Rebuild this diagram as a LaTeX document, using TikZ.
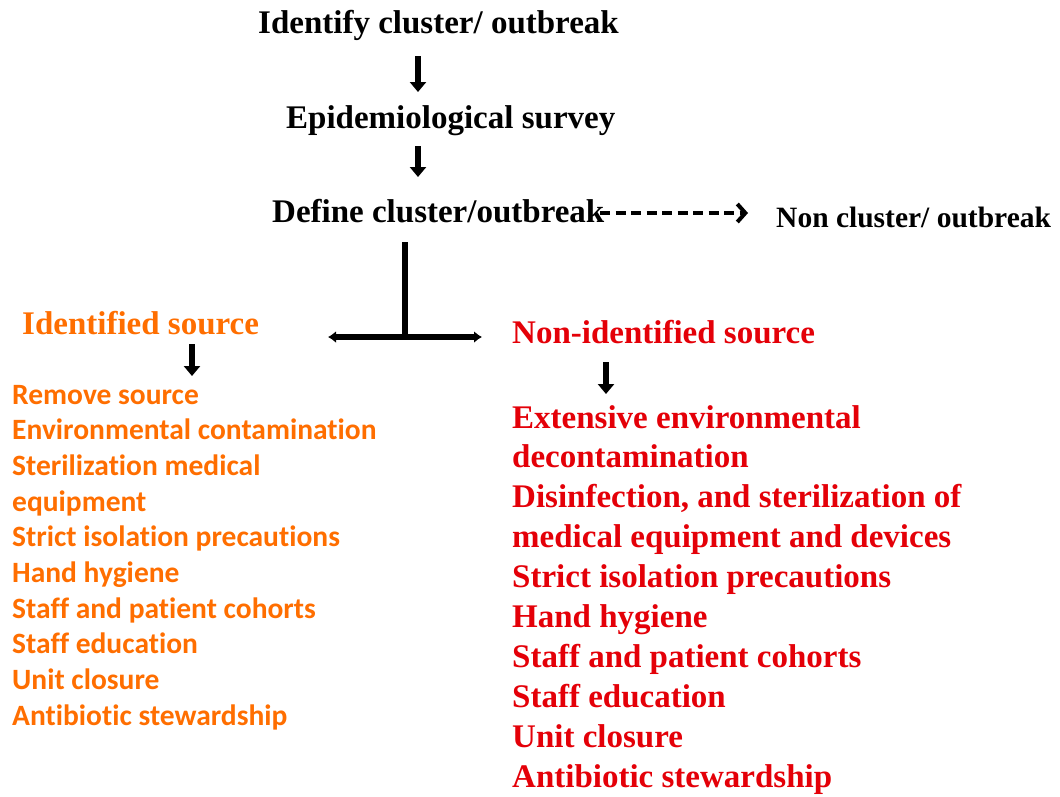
\documentclass[tikz,border=0pt]{standalone}
\usepackage{fontspec}
\setmainfont{Liberation Serif}
\newfontfamily\calib[Ligatures=NoCommon]{Carlito}
\usetikzlibrary{arrows.meta}
\definecolor{orng}{RGB}{255,110,0}
\definecolor{redd}{RGB}{228,0,8}
\begin{document}
\begin{tikzpicture}[x=1pt,y=-1pt,
  title/.style={anchor=base west, inner sep=0pt, font=\bfseries\fontsize{33}{39}\selectfont},
  smalltitle/.style={anchor=base west, inner sep=0pt, font=\bfseries\fontsize{29.5}{35}\selectfont},
  oitem/.style={anchor=base west, inner sep=0pt, text=orng, font=\calib\bfseries\fontsize{29.5}{35}\selectfont},
  ritem/.style={anchor=base west, inner sep=0pt, text=redd, font=\bfseries\fontsize{33}{39}\selectfont},
  downarr/.style={line width=6pt, -{Triangle[length=10pt,width=16pt]}},
  tline/.style={line width=6pt},
  tarr/.style={line width=6pt, {Latex[length=8pt,width=12pt]}-{Latex[length=8pt,width=12pt]}},
  dasharr/.style={line width=4pt, dash pattern=on 10pt off 5.5pt, -{Straight Barb[length=8pt,width=18pt]}}
]
\useasboundingbox (0,0) rectangle (1060,796);

\node[title] (identify) at (258,33) {Identify cluster/ outbreak};
\node[title] (epi) at (286,128) {Epidemiological survey};
\node[title] (define) at (272,222) {Define cluster/outbreak};
\node[smalltitle] (noncl) at (776,227) {Non cluster/ outbreak};
\node[title, text=orng] (idsrc) at (22,334) {Identified source};
\node[title, text=redd] (nonid) at (512,343) {Non-identified source};

\foreach \t [count=\i] in {Remove source, Environmental contamination, Sterilization medical, equipment, Strict isolation precautions, Hand hygiene, Staff and patient cohorts, Staff education, Unit closure, Antibiotic stewardship}
  \node[oitem] (o\i) at (12,{404+(\i-1)*35.7}) {\t};

\foreach \t [count=\i] in {Extensive environmental, decontamination, {Disinfection, and sterilization of}, medical equipment and devices, Strict isolation precautions, Hand hygiene, Staff and patient cohorts, Staff education, Unit closure, Antibiotic stewardship}
  \node[ritem] (r\i) at (512,{428+(\i-1)*39.9}) {\t};

\coordinate (a1s) at (418,56);
\coordinate (a1e) at (418,92);
\coordinate (a2s) at (418,146);
\coordinate (a2e) at (418,177);
\coordinate (ts) at (405,242);
\coordinate (tj) at (405,337);
\coordinate (tl) at (328,337);
\coordinate (tr) at (482,337);
\coordinate (ds) at (600,213);
\coordinate (de) at (748,213);
\coordinate (a3s) at (192,344);
\coordinate (a3e) at (192,376);
\coordinate (a4s) at (606,362);
\coordinate (a4e) at (606,394);

\draw[downarr] (a1s) -- (a1e);
\draw[downarr] (a2s) -- (a2e);
\draw[tline] (ts) -- (tj);
\draw[tarr] (tl) -- (tr);
\draw[dasharr] (ds) -- (de);
\draw[downarr] (a3s) -- (a3e);
\draw[downarr] (a4s) -- (a4e);
\end{tikzpicture}
\end{document}
